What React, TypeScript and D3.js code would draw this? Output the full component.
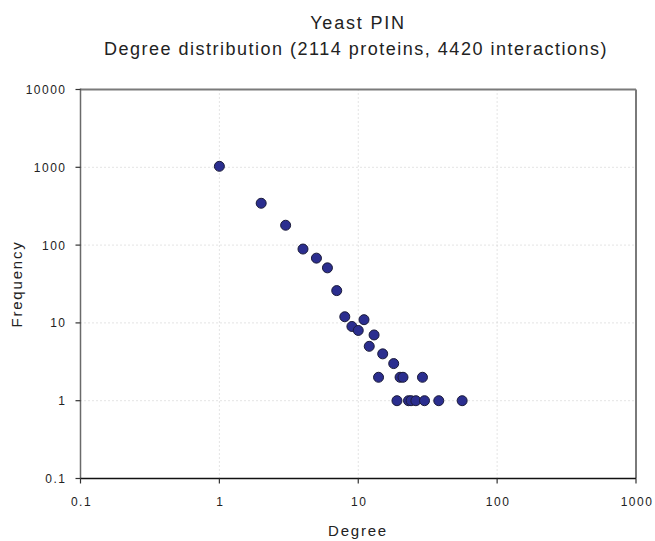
import React from "react";
import * as d3 from "d3";

const degrees = [1, 2, 3, 4, 5, 6, 7, 8, 9, 10, 11, 12, 13, 14, 15, 18, 20, 21, 29, 19, 23, 24, 26, 30, 38, 56];
const frequencies = [1030, 345, 180, 89, 68, 51, 26, 12, 9, 8, 11, 5, 7, 2, 4, 3, 2, 2, 2, 1, 1, 1, 1, 1, 1, 1];
const xTicks = [0.1, 1, 10, 100, 1000];
const yTicks = [0.1, 1, 10, 100, 1000, 10000];
const xTickLabels = ["0.1", "1", "10", "100", "1000"];
const yTickLabels = ["0.1", "1", "10", "100", "1000", "10000"];

const W = 655;
const H = 541;
const left = 80.5;
const right = 636;
const top = 89.5;
const bottom = 478.5;
const FONT = "'Liberation Sans', Arial, sans-serif";

export default function App() {
  const x = d3.scaleLog().domain([0.1, 1000]).range([left, right]);
  const y = d3.scaleLog().domain([0.1, 10000]).range([bottom, top]);
  const pts = degrees.map((d, i) => ({ d, f: frequencies[i] }));
  return (
    <svg width={W} height={H} style={{ position: "absolute", left: 0, top: 0 }} fontFamily={FONT}>
      <rect x={0} y={0} width={W} height={H} fill="#fff" />
      {/* grid */}
      {xTicks.slice(1, -1).map((t) => (
        <line key={"gx" + t} x1={x(t)} x2={x(t)} y1={top} y2={bottom} stroke="#c8c8c8" strokeDasharray="1,3" />
      ))}
      {yTicks.slice(1, -1).map((t) => (
        <line key={"gy" + t} x1={left} x2={right} y1={y(t)} y2={y(t)} stroke="#c8c8c8" strokeDasharray="1,3" />
      ))}
      {/* frame */}
      <line x1={left} x2={right} y1={top} y2={top} stroke="#7a7a7a" strokeWidth={2} />
      <line x1={right} x2={right} y1={top} y2={bottom} stroke="#7a7a7a" strokeWidth={2} />
      <line x1={left} x2={left} y1={top - 1} y2={bottom} stroke="#6a6a6a" strokeWidth={1.5} />
      <line x1={left} x2={right} y1={bottom} y2={bottom} stroke="#111" strokeWidth={1.5} />
      {/* ticks */}
      {yTicks.map((t, i) => (
        <g key={"ty" + t}>
          <line x1={left - 5} x2={left} y1={y(t)} y2={y(t)} stroke="#333" strokeWidth={1.2} />
          <text x={left - 14} y={y(t) + 4.5} textAnchor="end" fontSize={12} letterSpacing={1.5} fill="#222">
            {yTickLabels[i]}
          </text>
        </g>
      ))}
      {xTicks.map((t, i) => (
        <g key={"tx" + t}>
          <line x1={x(t)} x2={x(t)} y1={bottom} y2={bottom + 5} stroke="#333" strokeWidth={1.2} />
          <text x={x(t) + 1} y={bottom + 27} textAnchor="middle" fontSize={12} letterSpacing={1.5} fill="#222">
            {xTickLabels[i]}
          </text>
        </g>
      ))}
      {/* points */}
      {pts.map((p, i) => (
        <circle key={i} cx={x(p.d)} cy={y(p.f)} r={5} fill="#2b2e8f" stroke="#1b1b3a" strokeWidth={1} />
      ))}
      {/* titles */}
      <text x={358} y={29} textAnchor="middle" fontSize={18} letterSpacing={1.8} fill="#222">
        Yeast PIN
      </text>
      <text x={356} y={55} textAnchor="middle" fontSize={18} letterSpacing={1.5} fill="#222">
        Degree distribution (2114 proteins, 4420 interactions)
      </text>
      <text x={358} y={536} textAnchor="middle" fontSize={15} letterSpacing={1.8} fill="#222">
        Degree
      </text>
      <text
        transform={`translate(22,${(top + bottom) / 2}) rotate(-90)`}
        textAnchor="middle"
        fontSize={15}
        letterSpacing={1.8}
        fill="#222"
      >
        Frequency
      </text>
    </svg>
  );
}
